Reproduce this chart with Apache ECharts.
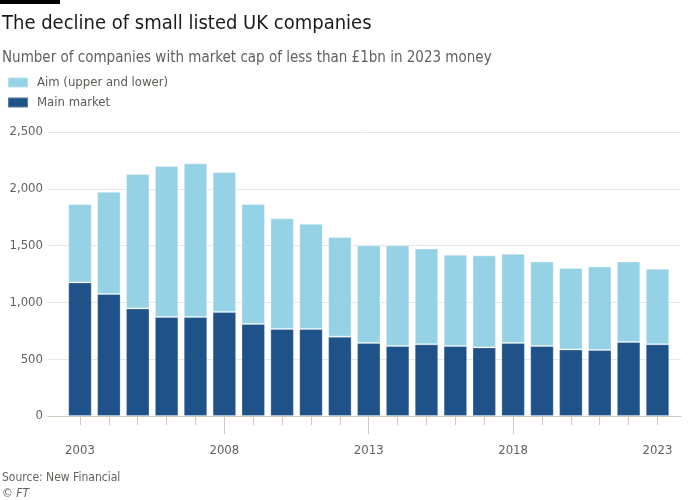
<!DOCTYPE html>
<html><head><meta charset="utf-8">
<script src="https://cdn.jsdelivr.net/npm/echarts@6/dist/echarts.min.js"></script>
<style>html,body{margin:0;padding:0;background:#fff}#c{width:700px;height:500px}</style>
</head><body><div id="c"></div>
<script>
const years = [2003,2004,2005,2006,2007,2008,2009,2010,2011,2012,2013,2014,2015,2016,2017,2018,2019,2020,2021,2022,2023];
const mainMarket = [1176,1074,947,871,871,915,810,766,766,698,642,616,631,616,604,642,616,586,581,651,631];
const aim = [690,900,1183,1330,1353,1233,1056,974,927,878,860,886,844,804,810,787,745,717,736,710,666];
const xLabelYears = [2003,2008,2013,2018,2023];
const xMajorTicks = [2008,2013,2018];
const yTicks = [0,500,1000,1500,2000,2500];

const FONT = '"Liberation Sans Narrow", "DejaVu Sans Condensed", Lato';
const chart = echarts.init(document.getElementById('c'), null, {renderer:'canvas'});
const xMin = 2001.892, xMax = 2023.814;
chart.setOption({
  animation:false,
  textStyle:{fontFamily:FONT},
  grid:{left:48, right:19, top:132, bottom:84, containLabel:false},
  graphic:[
    {type:'rect', left:0, top:0, shape:{width:60,height:4}, style:{fill:'#000'}},
    {type:'text', left:2, top:14, style:{text:'The decline of small listed UK companies', font:'20px '+FONT, fill:'#1a1a1a'}},
    {type:'text', left:2, top:51, style:{text:'Number of companies with market cap of less than £1bn in 2023 money', font:'15px '+FONT, fill:'#66605c'}},
    {type:'text', left:2, top:472, style:{text:'Source: New Financial', font:'12px '+FONT, fill:'#66605c'}},
    {type:'text', left:2, top:488, style:{text:'© FT', font:'italic 12px '+FONT, fill:'#66605c'}}
  ],
  legend:{
    orient:'vertical', left:2, top:71, itemWidth:20, itemHeight:10, itemGap:7,
    icon:'rect',
    textStyle:{fontFamily:FONT, fontSize:13, color:'#5f5a56', padding:[0,0,0,4]},
    data:['Aim (upper and lower)','Main market']
  },
  xAxis:[
    {type:'value', min:xMin, max:xMax,
     axisLine:{show:true, lineStyle:{color:'#d3c9bf', width:1}},
     axisTick:{show:true, customValues:years, length:9, lineStyle:{color:'#d3c9bf'}},
     axisLabel:{customValues:xLabelYears, margin:28, fontSize:13, color:'#66605c', fontFamily:FONT, formatter:v=>String(v)},
     splitLine:{show:false}},
    {type:'value', min:xMin, max:xMax, position:'bottom',
     axisLine:{show:false},
     axisTick:{show:true, customValues:xMajorTicks, length:18, lineStyle:{color:'#d3c9bf'}},
     axisLabel:{show:false}, splitLine:{show:false}}
  ],
  yAxis:{type:'value', min:0, max:2500, interval:500,
    axisLine:{show:false}, axisTick:{show:false},
    axisLabel:{margin:5, fontSize:13, color:'#66605c', fontFamily:FONT,
      formatter:v=>v.toLocaleString('en-GB')},
    splitLine:{lineStyle:{color:'#ebe5df', width:1}}},
  series:[
    {name:'Main market', type:'bar', stack:'a', barWidth:23.5, xAxisIndex:0,
     encode:{x:1, y:0},
     itemStyle:{color:'#1f5289', borderColor:'rgba(255,255,255,0.25)', borderWidth:1},
     data:years.map((y,i)=>[mainMarket[i], y])},
    {name:'Aim (upper and lower)', type:'bar', stack:'a', barWidth:23.5, xAxisIndex:0,
     encode:{x:1, y:0},
     itemStyle:{color:'#96d2e5', borderColor:'rgba(255,255,255,0.35)', borderWidth:1},
     data:years.map((y,i)=>[aim[i], y])}
  ]
});
</script></body></html>
